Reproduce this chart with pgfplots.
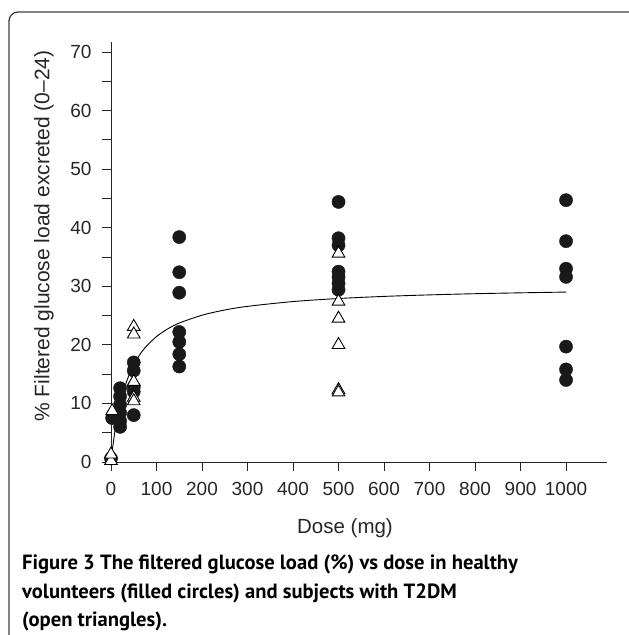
\documentclass[border=0pt]{standalone}
\usepackage{fontspec}
\setmainfont{Liberation Sans}
\newfontfamily\capfont{PT Sans}
\usepackage{pgfplots}
\pgfplotsset{compat=1.18}
\begin{document}
\begin{tikzpicture}[x=1pt,y=1pt]
\useasboundingbox (-111,-173) rectangle (518,462);
\draw[line width=1.3pt, black!75, rounded corners=9pt] (-102,450) rectangle (560,-260);
\begin{axis}[
  at={(0,0)}, anchor=south west,
  scale only axis, width=496pt, height=420pt,
  xmin=0, xmax=1090, ymin=0, ymax=71.7,
  axis lines*=left, clip=false,
  xtick={0,100,...,1000}, ytick={0,10,...,70}, minor ytick={5,15,...,65},
  tick align=outside, major tick length=9pt, minor tick length=9pt,
  every tick/.style={black!85, line width=0.7pt},
  axis line style={line width=0.8pt, black!85},
  ticklabel style={font=\fontsize{19}{22}\selectfont, text=black!85},
  yticklabel style={xshift=-7pt},
  xticklabel style={yshift=-8pt},
  /pgf/number format/assume math mode=true,
  /pgf/number format/set thousands separator={},
]
\addplot[smooth, line width=0.9pt, black] coordinates {
(0,0) (2,1.40) (5,3.28) (10,5.92) (15,8.09) (20,9.90) (30,12.76) (40,14.91)
(50,16.59) (60,17.94) (75,19.53) (100,21.42) (125,22.74) (150,23.72)
(200,25.06) (250,25.95) (300,26.57) (400,27.39) (500,27.91) (600,28.27)
(700,28.53) (800,28.73) (900,28.88) (1000,29.01)};
\addplot[only marks, mark=*, mark size=6.6pt, mark options={fill=black!90, draw=black!90}] coordinates {
(0,0.6) (2.5,7.5)
(20,12.6) (20,11.2) (20,9.8) (20,8.4) (20,7.0) (20,6.0)
(50,17.0) (50,15.6) (50,12.8) (50,12.0) (50,8.0)
(150,38.4) (150,32.4) (150,28.9) (150,22.2) (150,20.5) (150,18.4) (150,16.3)
(500,44.4) (500,38.2) (500,37.0) (500,32.5) (500,31.6) (500,30.5) (500,29.4)
(1000,44.7) (1000,37.7) (1000,33.0) (1000,31.6) (1000,19.7) (1000,15.8) (1000,14.0)};
\addplot[only marks, mark=triangle*, mark size=7.3pt, mark options={fill=white, draw=black, line width=0.9pt}] coordinates {
(0,0.2) (0,1.3) (2.5,8.7)
(50,23.1) (50,21.8) (50,13.7) (50,11.0) (50,10.4)
(500,35.6) (500,27.4) (500,24.5) (500,20.0) (500,12.3) (500,11.9)};
\end{axis}
\node[rotate=90, font=\fontsize{21}{24}\selectfont, text=black!85] at (-67,226) {\% Filtered glucose load excreted (0--24)};
\node[font=\fontsize{20.5}{24}\selectfont, text=black!85] at (234,-66) {Dose (mg)};
\begin{scope}[font=\capfont\bfseries\fontsize{20.6}{24}\selectfont]
\node[anchor=base west, inner sep=0pt] at (-89,-107) {Figure 3 The filtered glucose load (\%) vs dose in healthy};
\node[anchor=base west, inner sep=0pt] at (-89,-136) {volunteers (filled circles) and subjects with T2DM};
\node[anchor=base west, inner sep=0pt] at (-89,-164) {(open triangles).};
\end{scope}
\end{tikzpicture}
\end{document}
